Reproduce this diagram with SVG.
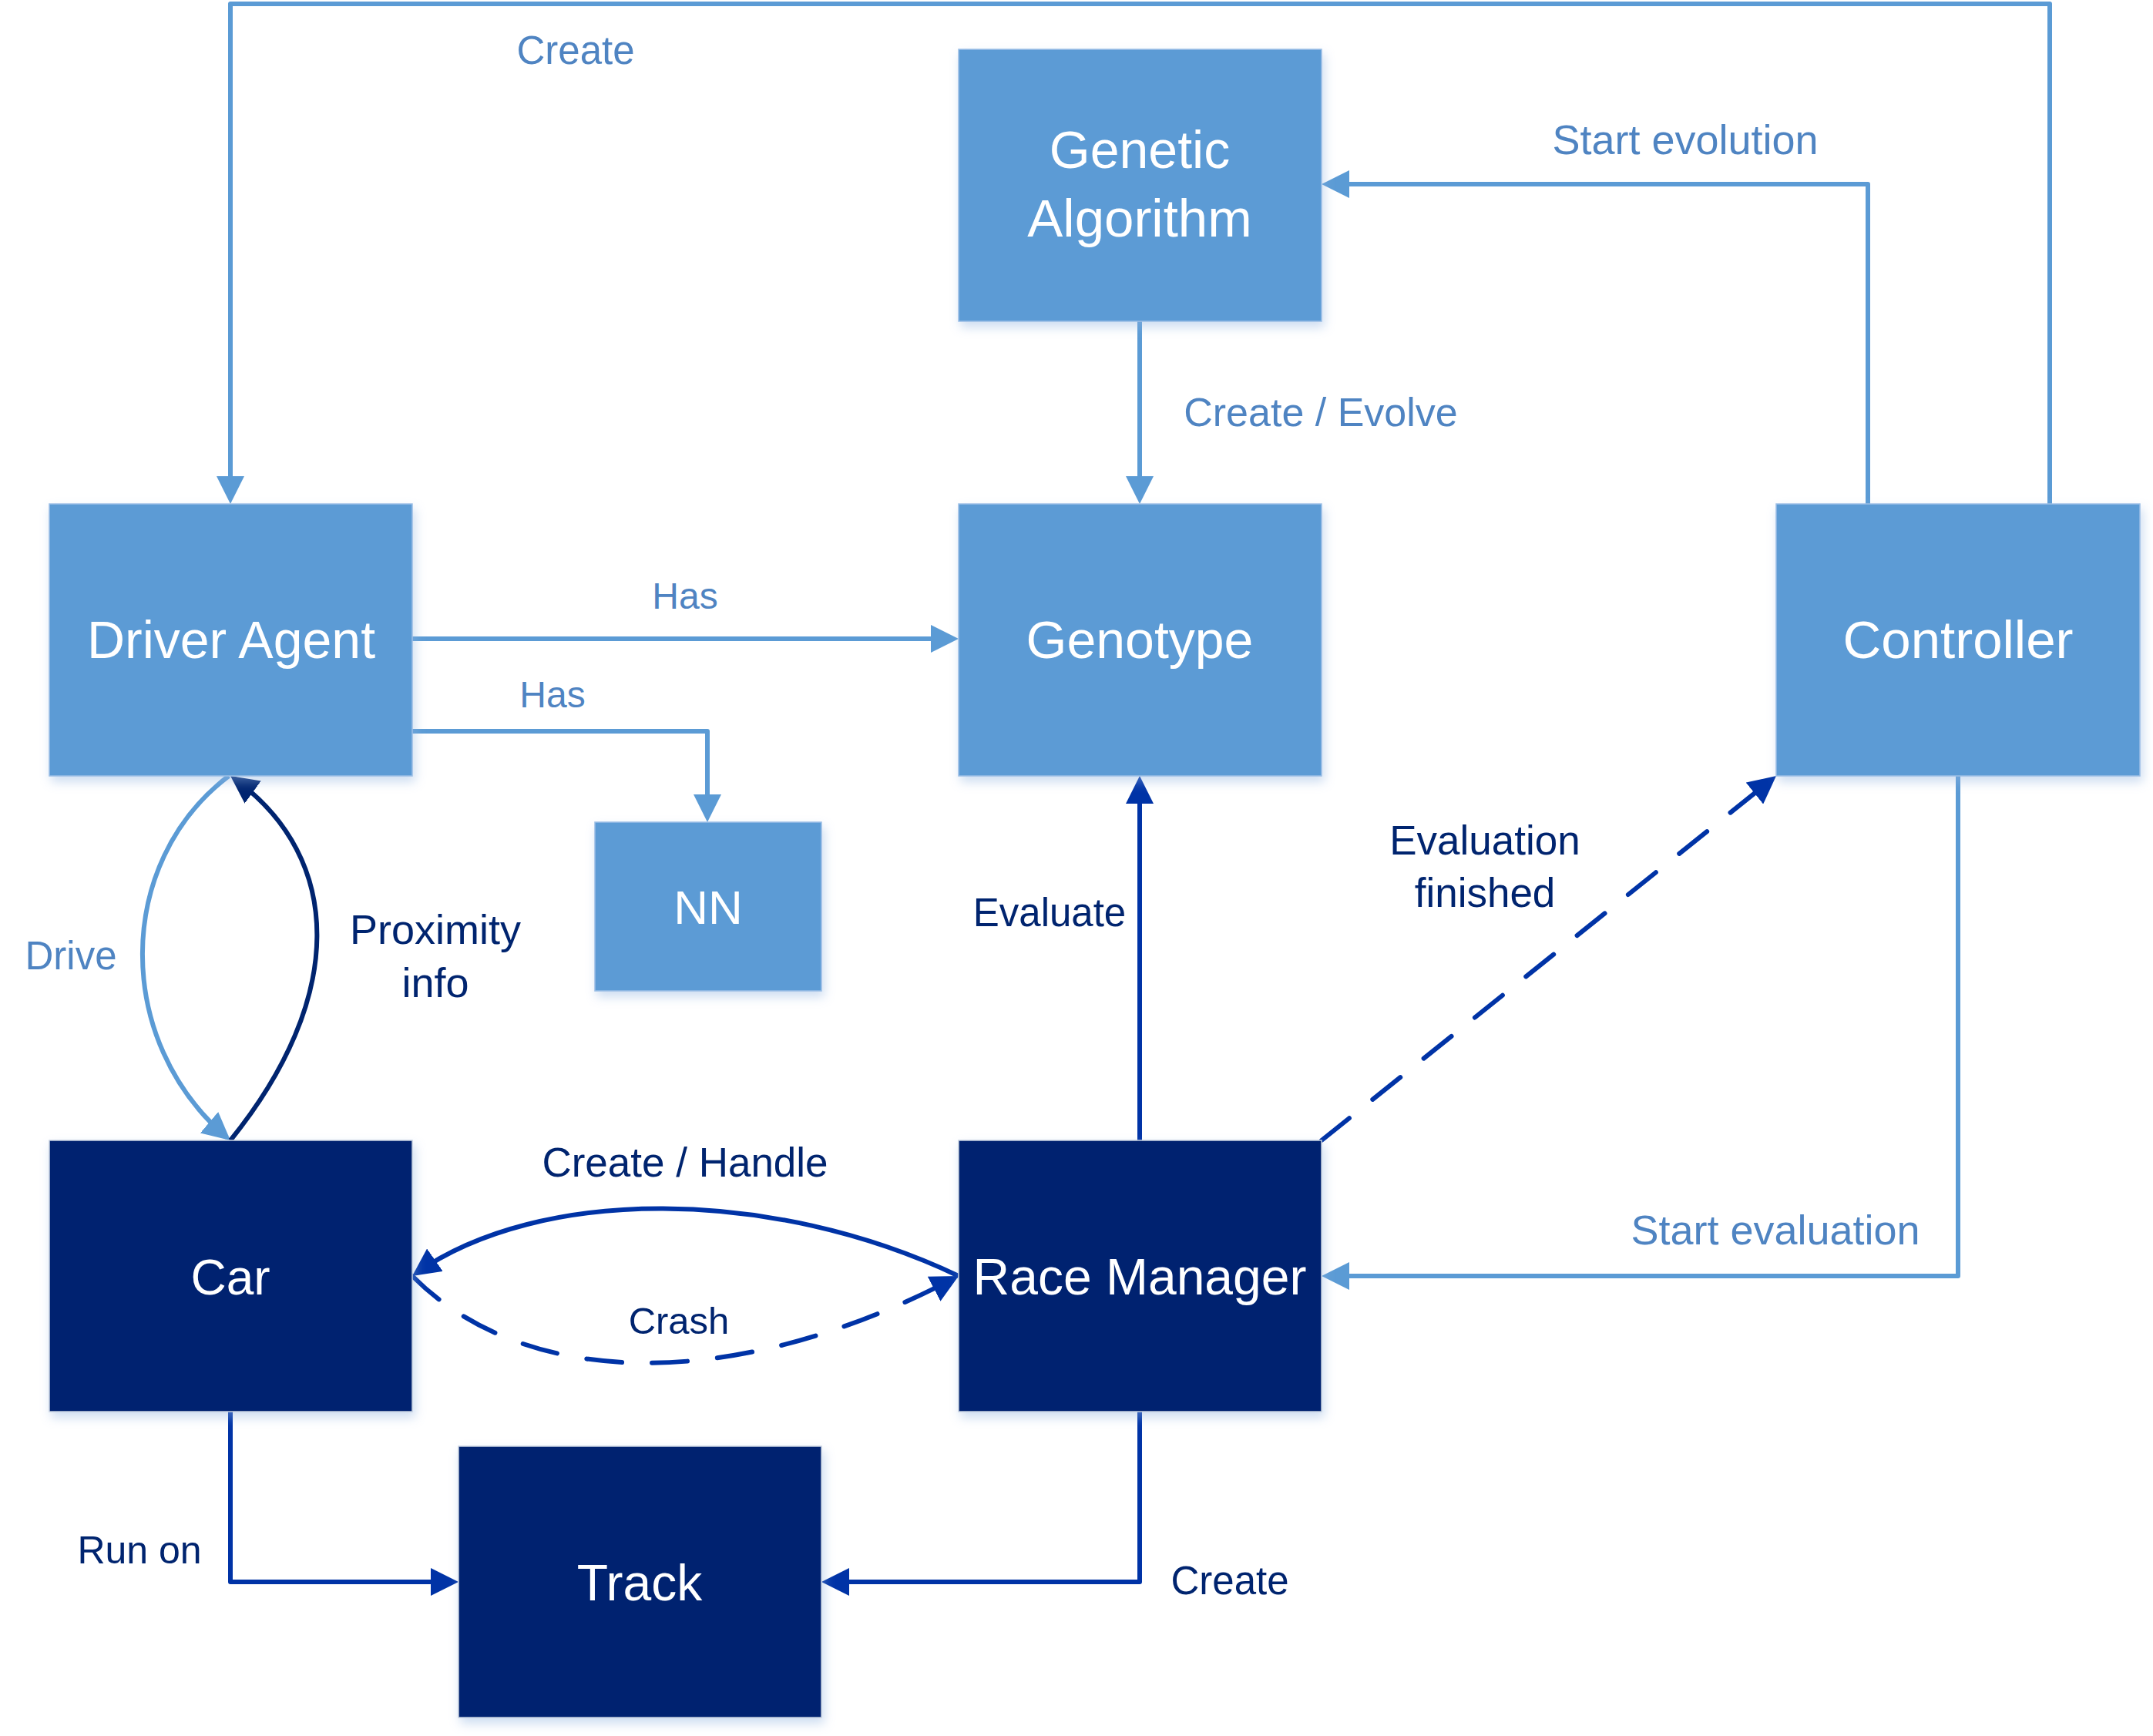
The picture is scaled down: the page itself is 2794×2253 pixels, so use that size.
<svg xmlns="http://www.w3.org/2000/svg" width="2794" height="2253" viewBox="0 0 2794 2253">
<defs>
<filter id="sh" x="-10%" y="-10%" width="125%" height="130%">
<feDropShadow dx="3" dy="7" stdDeviation="7" flood-color="#8FB3E0" flood-opacity="0.45"/>
</filter>
<marker id="aL" markerUnits="userSpaceOnUse" markerWidth="36" markerHeight="36" refX="30" refY="18" orient="auto" viewBox="0 0 36 36">
<path d="M0,0 L36,18 L0,36 z" fill="#5B9BD5"/>
</marker>
<marker id="aD" markerUnits="userSpaceOnUse" markerWidth="36" markerHeight="36" refX="30" refY="18" orient="auto" viewBox="0 0 36 36">
<path d="M0,0 L36,18 L0,36 z" fill="#0033A6"/>
</marker>
<marker id="aN" markerUnits="userSpaceOnUse" markerWidth="36" markerHeight="36" refX="30" refY="18" orient="auto" viewBox="0 0 36 36">
<path d="M0,0 L36,18 L0,36 z" fill="#00246F"/>
</marker>
</defs>
<style>
.light rect{fill:#5B9BD5;stroke:#9CBFE6;stroke-width:1.5;filter:url(#sh)}
.dark rect{fill:#002470;stroke:#C5D0E0;stroke-width:1.5;filter:url(#sh)}
.nt{font-family:"Liberation Sans",Arial,sans-serif;fill:#FFFFFF;text-anchor:middle}
.lbl{font-family:"Liberation Sans",Arial,sans-serif;font-size:52px;text-anchor:middle}
.lt{fill:#4F84C2}
.dt{fill:#00246F}
.cl{fill:none;stroke:#5B9BD5;stroke-width:6;stroke-linejoin:round}
.cd{fill:none;stroke:#0033A6;stroke-width:6;stroke-linejoin:round}
.cn{fill:none;stroke:#00246F;stroke-width:6}
.dash{stroke-dasharray:46 39;stroke-linecap:round}
</style>
<rect width="2794" height="2253" fill="#FFFFFF"/>

<g id="connectors">
<path class="cl" d="M2660,654 V5 H299 V648" marker-end="url(#aL)"/>
<path class="cl" d="M2424,654 V239 H1721" marker-end="url(#aL)"/>
<path class="cl" d="M1479,417 V648" marker-end="url(#aL)"/>
<path class="cl" d="M535,829 H1238" marker-end="url(#aL)"/>
<path class="cl" d="M535,949 H918 V1061" marker-end="url(#aL)"/>
<path class="cl" d="M2541,1007 V1656 H1721" marker-end="url(#aL)"/>
<path class="cl" d="M297,1007 C148,1120 148,1352 294.4,1476.1" marker-end="url(#aL)"/>
<path class="cn" d="M299,1480 C448,1296 448,1115 303.9,1010.5" marker-end="url(#aN)"/>
<path class="cd" d="M1479,1480 V1013" marker-end="url(#aD)"/>
<path class="cd dash" d="M1715,1480 L2300.3,1010.8" marker-end="url(#aD)"/>
<path class="cd" d="M1244,1656 C1000,1540 700,1540 539.9,1652.5" marker-end="url(#aD)"/>
<path class="cd dash" d="M535,1656 C685,1806 957,1806 1238.7,1658.8" marker-end="url(#aD)"/>
<path class="cd" d="M299,1832 V2053 H589" marker-end="url(#aD)"/>
<path class="cd" d="M1479,1832 V2053 H1072" marker-end="url(#aD)"/>

<text class="lbl lt" x="747" y="83" style="font-size:51px">Create</text>
<text class="lbl lt" x="2187" y="200" style="font-size:54px">Start evolution</text>
<text class="lbl lt" x="1714" y="553" style="font-size:52px">Create / Evolve</text>
<text class="lbl lt" x="889" y="790" style="font-size:48px">Has</text>
<text class="lbl lt" x="717" y="918" style="font-size:48px">Has</text>
<text class="lbl lt" x="92" y="1258" style="font-size:51px">Drive</text>
<text class="lbl dt" x="565" y="1225" style="font-size:54px">Proximity</text>
<text class="lbl dt" x="565" y="1294" style="font-size:54px">info</text>
<text class="lbl dt" x="1362" y="1202" style="font-size:51px">Evaluate</text>
<text class="lbl dt" x="1927" y="1109" style="font-size:53px">Evaluation</text>
<text class="lbl dt" x="1927" y="1177" style="font-size:53px">finished</text>
<text class="lbl lt" x="2304" y="1615" style="font-size:54px">Start evaluation</text>
<text class="lbl dt" x="889" y="1527" style="font-size:53px">Create / Handle</text>
<text class="lbl dt" x="881" y="1731" style="font-size:49px">Crash</text>
<text class="lbl dt" x="181" y="2029" style="font-size:50px">Run on</text>
<text class="lbl dt" x="1596" y="2069" style="font-size:51px">Create</text>
</g>

<g id="genetic-algorithm" class="light">
<rect x="1244" y="64" width="471" height="353"/>
<text class="nt" x="1479" y="218" style="font-size:68px">Genetic</text>
<text class="nt" x="1479" y="307" style="font-size:69px">Algorithm</text>
</g>
<g id="driver-agent" class="light">
<rect x="64" y="654" width="471" height="353"/>
<text class="nt" x="300" y="854" style="font-size:68px">Driver Agent</text>
</g>
<g id="genotype" class="light">
<rect x="1244" y="654" width="471" height="353"/>
<text class="nt" x="1479" y="854" style="font-size:68px">Genotype</text>
</g>
<g id="controller" class="light">
<rect x="2305" y="654" width="472" height="353"/>
<text class="nt" x="2541" y="854" style="font-size:69px">Controller</text>
</g>
<g id="nn" class="light">
<rect x="772" y="1067" width="294" height="219"/>
<text class="nt" x="919" y="1199" style="font-size:62px">NN</text>
</g>
<g id="car" class="dark">
<rect x="64" y="1480" width="471" height="352"/>
<text class="nt" x="299" y="1680" style="font-size:64px">Car</text>
</g>
<g id="race-manager" class="dark">
<rect x="1244" y="1480" width="471" height="352"/>
<text class="nt" x="1479" y="1680" style="font-size:66px">Race Manager</text>
</g>
<g id="track" class="dark">
<rect x="595" y="1877" width="471" height="352"/>
<text class="nt" x="830" y="2077" style="font-size:66px">Track</text>
</g>
</svg>
